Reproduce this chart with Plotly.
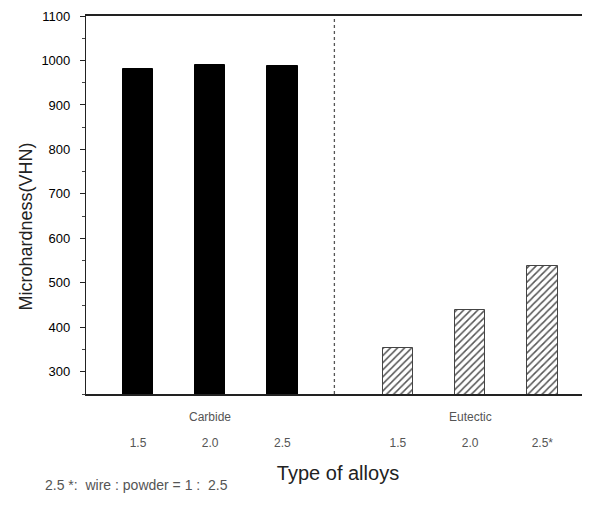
import plotly.graph_objects as go

# Data
groups = ["Carbide", "Eutectic"]
ratios = ["1.5", "2.0", "2.5"]
ratios_eutectic = ["1.5", "2.0", "2.5*"]
carbide_vals = [980, 989, 987]
eutectic_vals = [353, 439, 538]
y_ticks = [300, 400, 500, 600, 700, 800, 900, 1000, 1100]
y_title = "Microhardness(VHN)"
x_title = "Type of alloys"
footnote = "2.5\u00a0*:\u00a0\u00a0wire\u00a0:\u00a0powder\u00a0=\u00a01\u00a0:\u00a0\u00a02.5"

# Layout positions (category slots along x)
carbide_x = [1, 2, 3]
eutectic_x = [4.6, 5.6, 6.6]
divider_x = 3.72
bar_w = 0.42

fig = go.Figure()
fig.add_trace(go.Bar(
    x=carbide_x, y=carbide_vals, width=bar_w,
    marker=dict(color="black", line=dict(color="black", width=1)),
    showlegend=False, base=0,
))
fig.add_trace(go.Bar(
    x=eutectic_x, y=eutectic_vals, width=bar_w,
    marker=dict(color="white", line=dict(color="#444", width=1),
                pattern=dict(shape="/", fgcolor="#555", bgcolor="white",
                             size=5, solidity=0.3, fillmode="replace")),
    showlegend=False, base=0,
))

fig.add_shape(type="line", xref="x", yref="paper", x0=divider_x, x1=divider_x,
              y0=0, y1=1, line=dict(color="#555", width=1.3, dash="dot"))

font_family = "Liberation Sans, Arial, sans-serif"

# page body has an 8px default margin, so offsets compensate
fig.update_layout(
    width=590, height=506,
    margin=dict(l=78, r=8, t=8, b=120),
    plot_bgcolor="white", paper_bgcolor="white",
    font=dict(family=font_family, color="black"),
    bargap=0,
    xaxis=dict(
        range=[0.28, 7.26], automargin=False,
        tickvals=carbide_x + eutectic_x,
        ticktext=ratios + ratios_eutectic,
        tickfont=dict(size=12, color="#555"),
        ticks="", ticklabelstandoff=37,
        showline=True, linecolor="#222", linewidth=1.5, mirror=True,
        showgrid=False, zeroline=False,
        title=dict(text=x_title, font=dict(size=20, color="#222"), standoff=17),
    ),
    yaxis=dict(
        range=[250, 1100], automargin=False,
        tickvals=y_ticks,
        tickfont=dict(size=13, color="black"),
        ticks="outside", ticklen=5, tickcolor="#222", ticklabelstandoff=7,
        minor=dict(dtick=50, tick0=0, ticks="outside", ticklen=3, tickcolor="#444"),
        showline=True, linecolor="#222", linewidth=1.2,
        showgrid=False, zeroline=False,
    ),
)

fig.add_annotation(x=0, y=0.443, xref="paper", yref="paper", xshift=-60,
                   xanchor="center", yanchor="middle",
                   text=y_title, textangle=-90, showarrow=False,
                   font=dict(size=18, color="#222"))
fig.add_annotation(x=2, y=-0.085, xref="x", yref="paper", text=groups[0],
                   showarrow=False, font=dict(size=12, color="#555"))
fig.add_annotation(x=5.6, y=-0.085, xref="x", yref="paper", text=groups[1],
                   showarrow=False, font=dict(size=12, color="#555"))
fig.add_annotation(x=0, y=0, xref="paper", yref="paper", xshift=-43, yshift=-91,
                   xanchor="left", yanchor="middle",
                   text=footnote,
                   showarrow=False, font=dict(size=14, color="#555"))

fig.write_html("out.html")
